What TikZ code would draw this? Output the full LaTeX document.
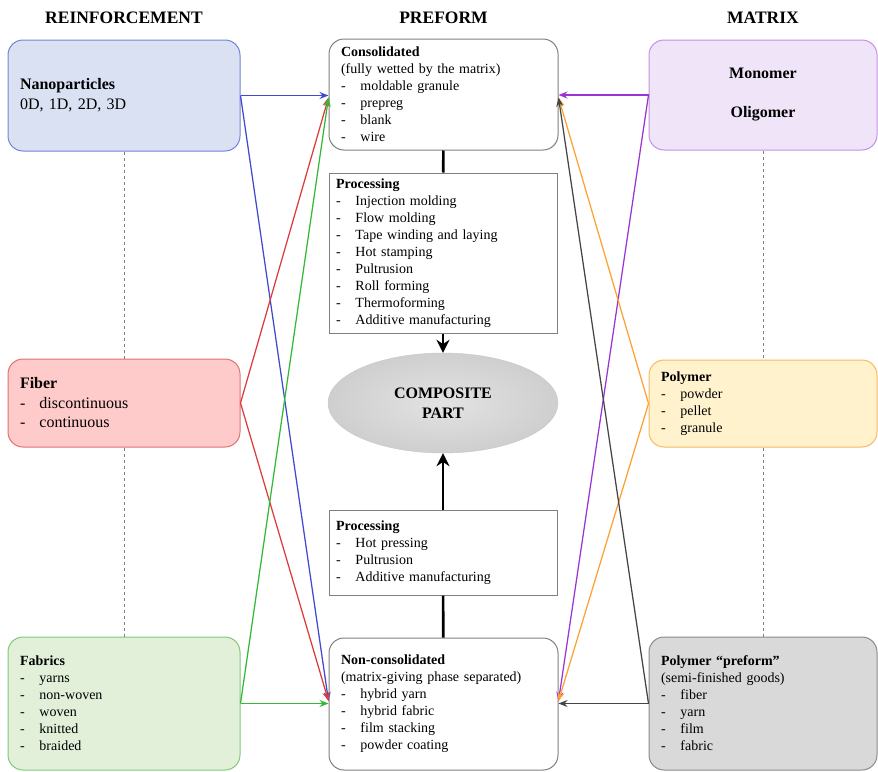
\documentclass[tikz,border=0pt]{standalone}
\usepackage{fontspec}
\setmainfont{Liberation Serif}
\usetikzlibrary{arrows.meta, positioning, shapes.geometric}

\definecolor{nanofill}{HTML}{D9E1F2}
\definecolor{nanoline}{HTML}{7384D6}
\definecolor{fibfill}{HTML}{FFCACA}
\definecolor{fibline}{HTML}{E07272}
\definecolor{fabfill}{HTML}{E2F0D9}
\definecolor{fabline}{HTML}{7DCB78}
\definecolor{monofill}{HTML}{EFE4F8}
\definecolor{monoline}{HTML}{C392E2}
\definecolor{polyfill}{HTML}{FFF2CC}
\definecolor{polyline}{HTML}{F7BA62}
\definecolor{pffill}{HTML}{D9D9D9}
\definecolor{pfline}{HTML}{8A8A8A}
\definecolor{arrblue}{HTML}{3F4BCB}
\definecolor{arrred}{HTML}{DD3B3B}
\definecolor{arrgreen}{HTML}{35B835}
\definecolor{arrpurple}{HTML}{9B33D6}
\definecolor{arrorange}{HTML}{FFA033}
\definecolor{arrgray}{HTML}{454545}

\newcommand{\dashitem}[1]{\makebox[19.5pt][l]{-}#1}

\begin{document}
\begin{tikzpicture}[x=1pt,y=-1pt,>={Stealth[length=9pt,width=7pt]},
    card/.style={draw, line width=1pt, rounded corners=15pt, align=left, inner xsep=12pt,
                 inner ysep=0pt, font=\fontsize{14}{17}\selectfont},
    left card/.style={card, text width=208pt},
    mid card/.style={card, draw=gray, fill=white, text width=205pt},
    right card/.style={card, text width=204pt},
    proc box/.style={draw=gray, line width=1pt, fill=white, align=left, inner xsep=7pt,
                 inner ysep=0pt, text width=214pt, font=\fontsize{14}{17}\selectfont},
    part/.style={ellipse, draw=gray!45, inner color=gray!22, outer color=gray!38,
                 minimum width=230pt, minimum height=100pt, inner sep=0pt, align=center,
                 font=\fontsize{16}{19.5}\selectfont\bfseries},
    title/.style={font=\fontsize{17.5}{20}\selectfont\bfseries},
    link/.style={->, line width=1.25pt},
    bar/.style={line width=2.6pt},
    bar arrow/.style={bar, -{Stealth[length=13pt,width=13pt]}}]

    \useasboundingbox (0,0) rectangle (878,771);

    % column titles
    \node[title] (reinf) at (124,18) {REINFORCEMENT};
    \node[title] (pref) at (443.5,18) {PREFORM};
    \node[title] (matr) at (763,18) {MATRIX};

    % reinforcement
    \node[left card, fill=nanofill, draw=nanoline, minimum height=111pt,
          font=\fontsize{16}{20}\selectfont] (nano) at (124,95.5)
          {\textbf{Nanoparticles}\\0D, 1D, 2D, 3D};
    \node[left card, fill=fibfill, draw=fibline, minimum height=88pt,
          font=\fontsize{16}{19.5}\selectfont] (fiber) at (124,403)
          {\textbf{Fiber}\\\dashitem{discontinuous}\\\dashitem{continuous}};
    \node[left card, fill=fabfill, draw=fabline, minimum height=133pt] (fabric) at (124,703.5)
          {\textbf{Fabrics}\\\dashitem{yarns}\\\dashitem{non-woven}\\\dashitem{woven}\\\dashitem{knitted}\\\dashitem{braided}};

    % preform
    \node[mid card, minimum height=111pt] (cons) at (443.5,94.5)
          {\textbf{Consolidated}\\(fully wetted by the matrix)\\\dashitem{moldable granule}\\\dashitem{prepreg}\\\dashitem{blank}\\\dashitem{wire}};
    \node[proc box, minimum height=160pt] (proc1) at (443,253)
          {\textbf{Processing}\\\dashitem{Injection molding}\\\dashitem{Flow molding}\\\dashitem{Tape winding and laying}\\\dashitem{Hot stamping}\\\dashitem{Pultrusion}\\\dashitem{Roll forming}\\\dashitem{Thermoforming}\\\dashitem{Additive manufacturing}};
    \node[part] (comp) at (443,403) {COMPOSITE\\PART};
    \node[proc box, minimum height=85pt] (proc2) at (443,552.5)
          {\textbf{Processing}\\\dashitem{Hot pressing}\\\dashitem{Pultrusion}\\\dashitem{Additive manufacturing}};
    \node[mid card, minimum height=132pt] (noncons) at (443.5,704)
          {\textbf{Non-consolidated}\\(matrix-giving phase separated)\\\dashitem{hybrid yarn}\\\dashitem{hybrid fabric}\\\dashitem{film stacking}\\\dashitem{powder coating}};

    % matrix
    \node[right card, fill=monofill, draw=monoline, minimum height=110pt, align=center,
          font=\fontsize{16}{19.5}\selectfont\bfseries] (mono) at (763,95)
          {Monomer\\[19.5pt]Oligomer};
    \node[right card, fill=polyfill, draw=polyline, minimum height=87pt] (poly) at (763,403.5)
          {\textbf{Polymer}\\\dashitem{powder}\\\dashitem{pellet}\\\dashitem{granule}};
    \node[right card, fill=pffill, draw=pfline, minimum height=133pt] (pform) at (763,703.5)
          {\textbf{Polymer ``preform''}\\(semi-finished goods)\\\dashitem{fiber}\\\dashitem{yarn}\\\dashitem{film}\\\dashitem{fabric}};

    % dashed column guides
    \path[draw=gray, dashed, line width=0.8pt]
        (nano) -- (fiber) (fiber) -- (fabric)
        (mono) -- (poly) (poly) -- (pform);

    % processing chain
    \draw[bar] (cons) -- (proc1);
    \draw[bar arrow] (proc1) -- (comp);
    \draw[bar arrow] (proc2) -- (comp);
    \draw[bar] (noncons) -- (proc2);

    % reinforcement into preform
    \path[link]
        (nano.east) edge[arrblue] (nano.east -| cons.west)
        (nano.east) edge[arrblue] ([yshift=3pt]noncons.west)
        (fiber.east) edge[arrred] ([yshift=-3pt]cons.west)
        (fiber.east) edge[arrred] ([yshift=3pt]noncons.west)
        (fabric.east) edge[arrgreen] ([yshift=-3pt]cons.west)
        (fabric.east) edge[arrgreen] (fabric.east -| noncons.west);

    % matrix into preform
    \path[link]
        (mono.west) edge[arrpurple] (mono.west -| cons.east)
        (mono.west) edge[arrpurple] ([yshift=3pt]noncons.east)
        (poly.west) edge[arrorange] ([yshift=-3pt]cons.east)
        (poly.west) edge[arrorange] ([yshift=3pt]noncons.east)
        (pform.west) edge[arrgray] ([yshift=-3pt]cons.east)
        (pform.west) edge[arrgray] (pform.west -| noncons.east);
\end{tikzpicture}
\end{document}
